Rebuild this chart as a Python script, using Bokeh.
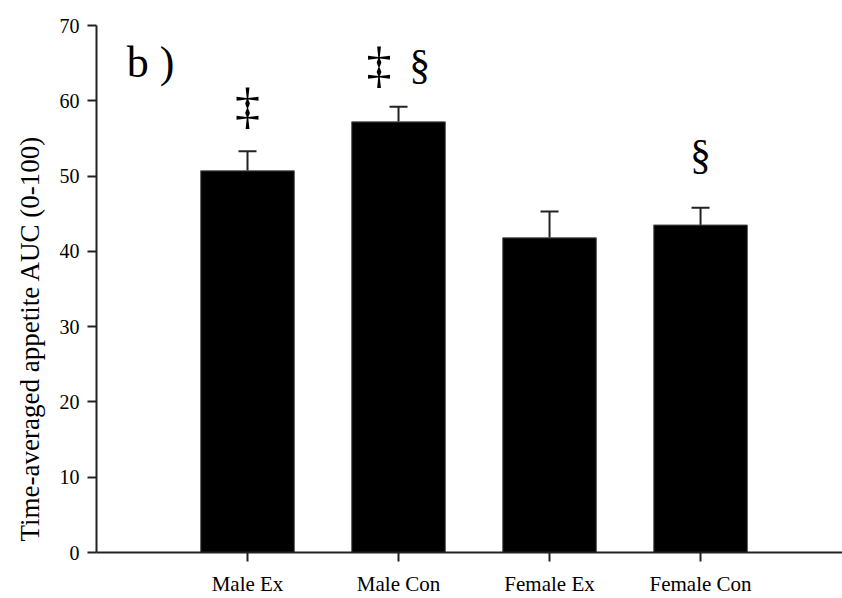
from bokeh.plotting import figure
from bokeh.models import ColumnDataSource, Range1d, FixedTicker, Whisker, TeeHead, Label, Title
from bokeh.embed import file_html
from bokeh.resources import INLINE

categories = ["Male Ex", "Male Con", "Female Ex", "Female Con"]
means = [50.7, 57.2, 41.8, 43.5]
sem = [2.6, 2.0, 3.5, 2.3]
y_ticks = [0, 10, 20, 30, 40, 50, 60, 70]

# significance marks: (category index, text, x offset in category units, y)
marks = [
    (0, "\u2021", 0.0, 59.3),
    (1, "\u2021", -0.13, 64.8),
    (1, "\u00a7", 0.14, 64.7),
    (3, "\u00a7", 0.0, 52.8),
]

FONT = "Liberation Serif"

xs = [i + 1 for i in range(len(categories))]
upper = [m + s for m, s in zip(means, sem)]
src = ColumnDataSource(dict(x=xs, top=means, upper=upper, cat=categories))

p = figure(width=842, height=598, output_backend="svg", toolbar_location=None,
           x_range=Range1d(0, 4.94), y_range=Range1d(0, 70))
p.min_border_left = 95
p.min_border_right = 0
p.min_border_top = 25
p.min_border_bottom = 44
p.outline_line_color = None
p.grid.visible = False
p.background_fill_color = "white"
p.border_fill_color = "white"

p.vbar(x="x", top="top", width=0.62, bottom=0, source=src,
       fill_color="black", line_color="#555555", line_width=1)

w = Whisker(base="x", upper="upper", lower="top", source=src, dimension="height",
            line_color="#222222", line_width=2,
            upper_head=TeeHead(size=18, line_color="#222222", line_width=2),
            lower_head=None)
p.add_layout(w)

for idx, txt, dx, yy in marks:
    size = "50px" if txt == "\u2021" else "42px"
    p.add_layout(Label(x=xs[idx] + dx, y=yy, text=txt, text_font=FONT,
                       text_font_size=size, text_align="center",
                       text_baseline="middle", text_color="black"))

p.add_layout(Label(x=0.2, y=65.1, text="b )", text_font=FONT, text_font_size="44px",
                   text_baseline="alphabetic", text_align="left", text_color="black"))

ylab = Title(text="Time-averaged appetite AUC (0-100)", text_font=FONT,
             text_font_size="27px", text_font_style="normal", text_color="black",
             align="left", offset=11, standoff=24)
p.add_layout(ylab, "left")

# axes
p.xaxis.ticker = FixedTicker(ticks=xs)
p.xaxis.major_label_overrides = {x: c for x, c in zip(xs, categories)}
p.yaxis.ticker = FixedTicker(ticks=y_ticks)
for ax in (p.xaxis, p.yaxis):
    ax.axis_line_width = 2
    ax.axis_line_color = "#222222"
    ax.major_tick_line_width = 2
    ax.major_tick_line_color = "#222222"
    ax.major_tick_out = 9
    ax.major_tick_in = 0
    ax.minor_tick_line_color = None
    ax.major_label_text_font = FONT
    ax.major_label_text_color = "black"
p.xaxis.major_label_text_font_size = "21px"
p.yaxis.major_label_text_font_size = "20px"
p.xaxis.major_label_standoff = 10
p.yaxis.major_label_standoff = 8

open("out.html", "w").write(file_html(p, INLINE))
